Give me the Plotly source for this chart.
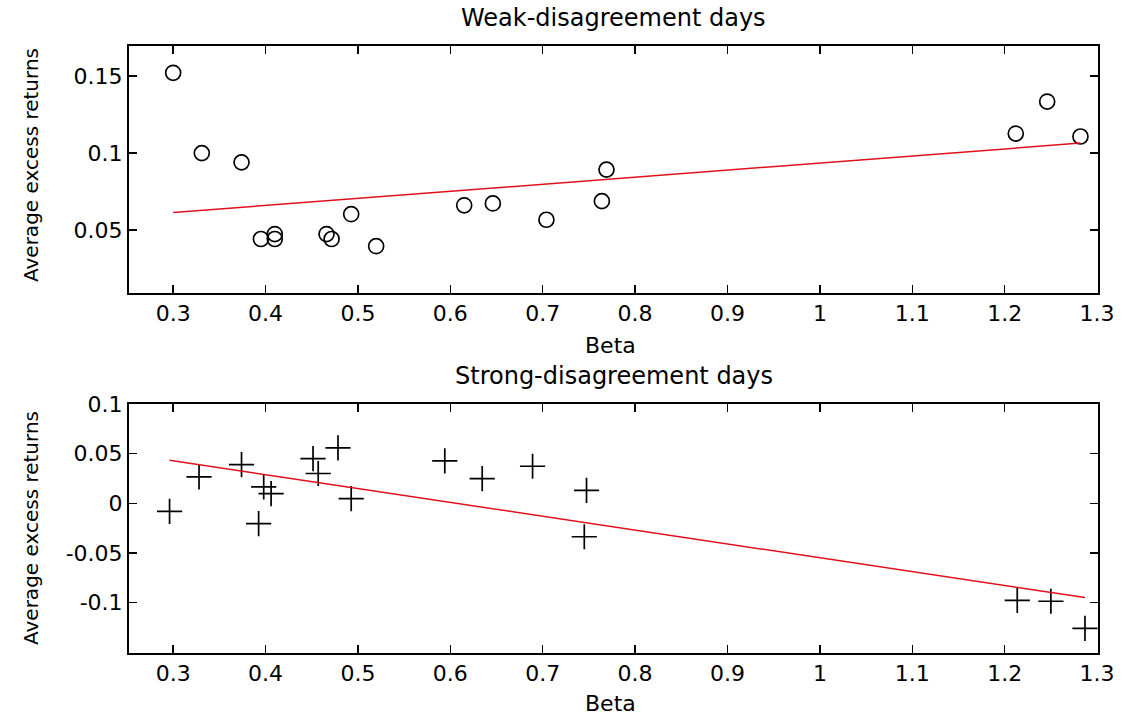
import plotly.graph_objects as go

# ---------------- data ----------------
weak_beta = [0.300, 0.331, 0.374, 0.395, 0.410, 0.410, 0.466, 0.4715, 0.4927, 0.5197,
             0.615, 0.646, 0.704, 0.764, 0.769, 1.212, 1.246, 1.282]
weak_ret = [0.1522, 0.1000, 0.0940, 0.0442, 0.0474, 0.0442, 0.0474, 0.0442, 0.0603, 0.0395,
            0.0661, 0.0673, 0.0567, 0.0688, 0.0893, 0.1127, 0.1335, 0.1108]
weak_fit = (0.04762, 0.04593)      # intercept, slope

strong_beta = [0.2961, 0.328, 0.374, 0.3925, 0.398, 0.406, 0.4514, 0.457, 0.4784, 0.4927,
               0.594, 0.6345, 0.689, 0.7474, 0.745, 1.2136, 1.250, 1.2869]
strong_ret = [-0.0081, 0.0266, 0.0390, -0.0205, 0.0165, 0.0097, 0.0450, 0.0300, 0.0558, 0.0047,
              0.0427, 0.0249, 0.0373, 0.0131, -0.0337, -0.0977, -0.0987, -0.1260]
strong_fit = (0.0846, -0.1395)     # intercept, slope

x_ticks = [0.3, 0.4, 0.5, 0.6, 0.7, 0.8, 0.9, 1.0, 1.1, 1.2, 1.3]
x_ticktext = ["0.3", "0.4", "0.5", "0.6", "0.7", "0.8", "0.9", "1", "1.1", "1.2", "1.3"]
weak_yticks = [0.05, 0.1, 0.15]
weak_yticktext = ["0.05", "0.1", "0.15"]
strong_yticks = [-0.1, -0.05, 0, 0.05, 0.1]
strong_yticktext = ["-0.1", "-0.05", "0", "0.05", "0.1"]

titles = ["Weak-disagreement days", "Strong-disagreement days"]
x_title = "Beta"
y_title = "Average excess returns"

# ---------------- figure ----------------
W, H = 1123, 717
FONT = "DejaVu Sans"
LINE_RED = "#e0101c"

def line_pts(xs, fit):
    x0, x1 = min(xs), max(xs)
    return [x0, x1], [fit[0] + fit[1] * x0, fit[0] + fit[1] * x1]

fig = go.Figure()

fig.add_trace(go.Scatter(x=weak_beta, y=weak_ret, mode="markers",
                         marker=dict(symbol="circle-open", size=15, color="black",
                                     line=dict(width=1.7, color="black")),
                         xaxis="x", yaxis="y", showlegend=False))
lx, ly = line_pts(weak_beta, weak_fit)
fig.add_trace(go.Scatter(x=lx, y=ly, mode="lines", line=dict(color=LINE_RED, width=1.5),
                         xaxis="x", yaxis="y", showlegend=False))

fig.add_trace(go.Scatter(x=strong_beta, y=strong_ret, mode="markers",
                         marker=dict(symbol="cross-thin-open", size=18, color="black",
                                     line=dict(width=1.7, color="black")),
                         xaxis="x2", yaxis="y2", showlegend=False))
lx2, ly2 = line_pts(strong_beta, strong_fit)
fig.add_trace(go.Scatter(x=lx2, y=ly2, mode="lines", line=dict(color=LINE_RED, width=1.5),
                         xaxis="x2", yaxis="y2", showlegend=False))

x_dom = [129 / W, 1098 / W]
top_dom = [1 - 293 / H, 1 - 46 / H]
bot_dom = [1 - 653 / H, 1 - 404 / H]

axis_common = dict(showgrid=False, zeroline=False, showline=True, linecolor="black",
                   linewidth=2, mirror="ticks", ticks="inside", ticklen=8, tickwidth=1.5,
                   tickcolor="black", tickfont=dict(family=FONT, size=22, color="black"),
                   automargin=False, fixedrange=True)

fig.update_layout(
    width=W, height=H,
    margin=dict(l=0, r=0, t=0, b=0),
    paper_bgcolor="white", plot_bgcolor="white",
    hovermode=False,
    xaxis=dict(domain=x_dom, range=[0.2522, 1.301], tickvals=x_ticks, ticktext=x_ticktext,
               anchor="y", **axis_common),
    yaxis=dict(domain=top_dom, range=[0.0091, 0.1696], tickvals=weak_yticks,
               ticktext=weak_yticktext, anchor="x", **axis_common),
    xaxis2=dict(domain=x_dom, range=[0.2522, 1.301], tickvals=x_ticks, ticktext=x_ticktext,
                anchor="y2", **axis_common),
    yaxis2=dict(domain=bot_dom, range=[-0.1508, 0.1], tickvals=strong_yticks,
                ticktext=strong_yticktext, anchor="x2", **axis_common),
)

ann_font = dict(family=FONT, size=22, color="black")
title_font = dict(family=FONT, size=24, color="black")
xc = (129 + 1098) / 2 / W
annotations = [
    dict(text=titles[0], x=xc, y=1 - 18 / H, xref="paper", yref="paper",
         showarrow=False, font=title_font, xanchor="center", yanchor="middle"),
    dict(text=titles[1], x=xc, y=1 - 376 / H, xref="paper", yref="paper",
         showarrow=False, font=title_font, xanchor="center", yanchor="middle"),
    dict(text=x_title, x=610 / W, y=1 - 345 / H, xref="paper", yref="paper",
         showarrow=False, font=ann_font, xanchor="center", yanchor="middle"),
    dict(text=x_title, x=610 / W, y=1 - 703 / H, xref="paper", yref="paper",
         showarrow=False, font=ann_font, xanchor="center", yanchor="middle"),
    dict(text=y_title, x=31 / W, y=1 - 165 / H, xref="paper", yref="paper", textangle=-90,
         showarrow=False, font=dict(family=FONT, size=20, color="black"),
         xanchor="center", yanchor="middle"),
    dict(text=y_title, x=31 / W, y=1 - 528 / H, xref="paper", yref="paper", textangle=-90,
         showarrow=False, font=dict(family=FONT, size=20, color="black"),
         xanchor="center", yanchor="middle"),
]
fig.update_layout(annotations=annotations)

fig.write_html("out.html", config={"displayModeBar": False, "staticPlot": True},
               post_script="document.body.style.margin='0';document.body.style.overflow='hidden';")
